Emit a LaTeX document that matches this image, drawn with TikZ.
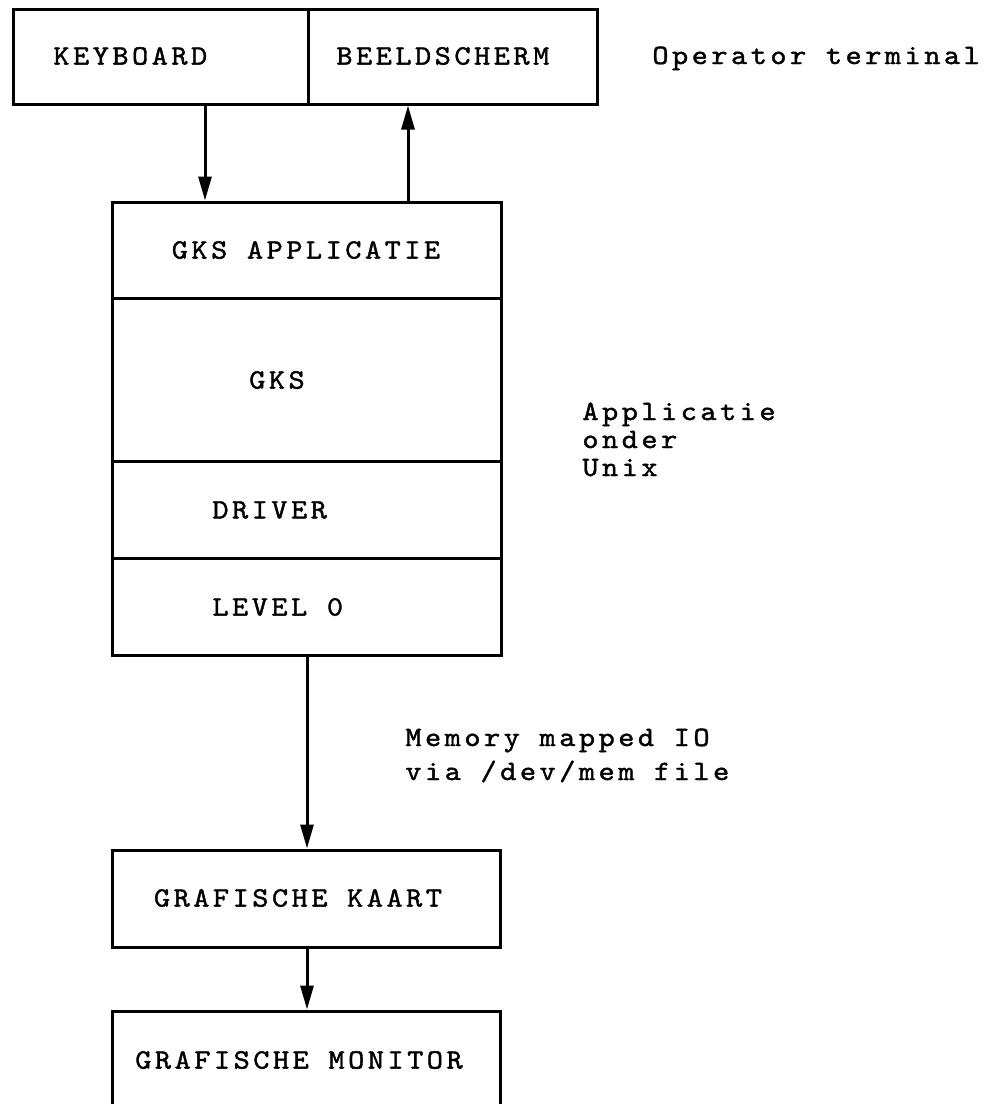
\documentclass[tikz,border=0pt]{standalone}
\usepackage{fontspec}
\newfontfamily\tw{lmmono10-regular.otf}[LetterSpace=12.5,FakeStretch=1.1,FakeBold=1.4]
\usetikzlibrary{arrows.meta,fit}
\begin{document}
\begin{tikzpicture}[x=0.5pt,y=-0.5pt,
  box/.style={draw, line width=1.5pt, inner sep=0pt, rectangle},
  lbl/.style={font=\tw\fontsize{14}{16}\selectfont, inner sep=0pt},
  arr/.style={line width=1.5pt, -{Triangle[width=6.5pt,length=12pt]}},
]
\useasboundingbox (0,0) rectangle (994,1104);
\clip (0,0) rectangle (994,1104);

% operator terminal
\node[box, fit={(13,9) (308,104)}] (keyboard) {};
\node[box, fit={(308,9) (597,104)}] (beeldscherm) {};
\node[lbl, anchor=west] (tkb) at (53,56) {KEYBOARD};
\node[lbl, anchor=west] (tbs) at (336,56) {BEELDSCHERM};
\node[lbl, anchor=base west] (top) at (652,64) {Operator terminal};

% application stack
\node[box, fit={(112,202) (501,298)}] (gksapp) {};
\node[box, fit={(112,298) (501,461)}] (gks) {};
\node[box, fit={(112,461) (501,558)}] (driver) {};
\node[box, fit={(112,558) (501,655)}] (level0) {};
\node[lbl] (tgksapp) at (306,250) {GKS APPLICATIE};
\node[lbl] (tgks) at (277,380) {GKS};
\node[lbl, anchor=west] (tdriver) at (212,510) {DRIVER};
\node[lbl, anchor=west] (tlevel) at (212,607) {LEVEL 0};
\node[lbl, anchor=base west] (tapp1) at (582,420) {Applicatie};
\node[lbl, anchor=base west] (tapp2) at (582,448) {onder};
\node[lbl, anchor=base west] (tapp3) at (582,476) {Unix};

% hardware
\node[box, fit={(112,850) (500,947)}] (kaart) {};
\node[box, fit={(112,1011) (500,1130)}] (monitor) {};
\node[lbl] (tkaart) at (298,898) {GRAFISCHE KAART};
\node[lbl] (tmonitor) at (299,1060) {GRAFISCHE MONITOR};
\node[lbl, anchor=base west] (tmem1) at (405,746) {Memory mapped IO};
\node[lbl, anchor=base west] (tmem2) at (405,780) {via /dev/mem file};

% connectors
\coordinate (xa) at (205,0);
\coordinate (xb) at (408,0);
\coordinate (xc) at (307,0);
\draw[arr] (keyboard.south -| xa) -- (gksapp.north -| xa);
\draw[arr] (gksapp.north -| xb) -- (beeldscherm.south -| xb);
\draw[arr] (level0.south -| xc) -- (kaart.north -| xc);
\draw[arr] (kaart.south -| xc) -- (monitor.north -| xc);
\end{tikzpicture}
\end{document}
